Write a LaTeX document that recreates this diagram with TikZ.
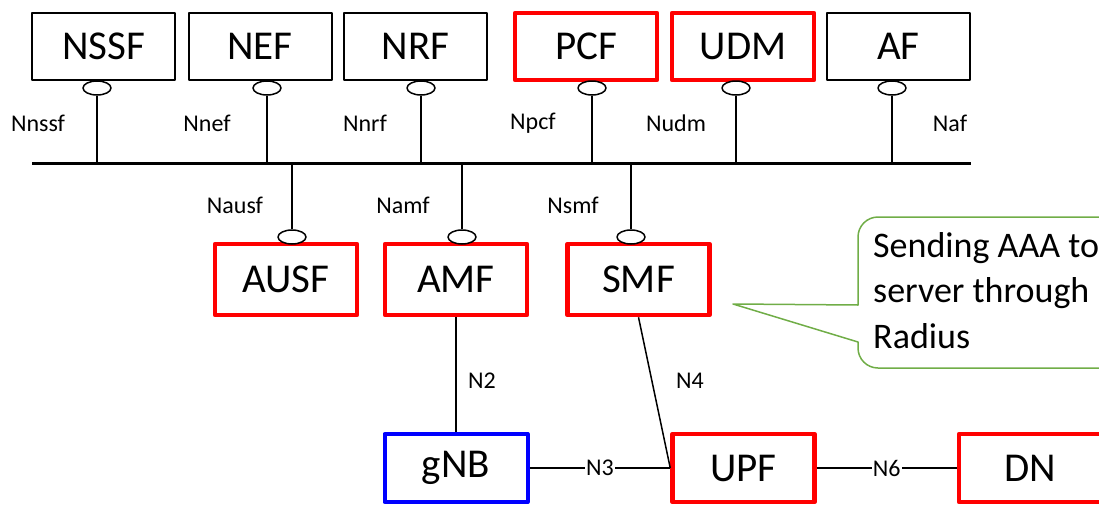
\documentclass[tikz,border=0pt]{standalone}
\usepackage{fontspec}
\setmainfont{Carlito}
\usetikzlibrary{shapes.geometric}
\definecolor{notegreen}{RGB}{112,173,71}
\tikzset{
  nf/.style={draw, line width=2pt, minimum width=143pt, minimum height=67pt, inner sep=0pt, font=\fontsize{41}{48}\selectfont},
  nfred/.style={nf, draw=red, line width=4.5pt, minimum width=142pt},
  nfblue/.style={nf, draw=blue, line width=4pt},
  svc/.style={draw, ellipse, line width=1.5pt, minimum width=28pt, minimum height=14pt, inner sep=0pt, fill=white},
  ifname/.style={font=\fontsize{24}{28}\selectfont, inner sep=1pt},
  link/.style={line width=1.5pt},
  bus/.style={line width=3pt},
  stub/.style={line width=2pt},
}
\begin{document}
\begin{tikzpicture}[x=1pt, y=-1pt, line join=round]
  \clip (0,0) rectangle (1099,506);
  % control plane functions
  \node[nf] (nssf) at (103.5,46.5) {NSSF};
  \node[nf] (nef) at (260,46.5) {NEF};
  \node[nf] (nrf) at (415.5,46.5) {NRF};
  \node[nfred] (pcf) at (586,46.5) {PCF};
  \node[nfred] (udm) at (743,46.5) {UDM};
  \node[nf] (af) at (898.5,46.5) {AF};
  \node[nfred, minimum height=71pt] (ausf) at (286,279.5) {AUSF};
  \node[nfred, minimum height=71pt] (amf) at (456,279.5) {AMF};
  \node[nfred, minimum height=71pt] (smf) at (638.5,279.5) {SMF};
  % service bus
  \coordinate (busw) at (32,163);
  \coordinate (buse) at (971,163);
  \draw[bus] (busw) -- (buse);
  \node[svc] (snssf) at (97,88) {};
  \node[svc] (snef) at (267,88) {};
  \node[svc] (snrf) at (421,88) {};
  \node[svc] (spcf) at (592,88) {};
  \node[svc] (sudm) at (736,88) {};
  \node[svc] (saf) at (892,88) {};
  \node[svc] (sausf) at (292,237) {};
  \node[svc] (samf) at (462,237) {};
  \node[svc] (ssmf) at (631,237) {};
  \foreach \s in {snssf,snef,snrf,spcf,sudm,saf,sausf,samf,ssmf}
    \draw[stub] (\s) -- (\s |- busw);
  \node[ifname] (lnssf) at (38,123) {Nnssf};
  \node[ifname] (lnef) at (207,123) {Nnef};
  \node[ifname] (lnrf) at (365,123) {Nnrf};
  \node[ifname] (lpcf) at (533,123) {Npcf};
  \node[ifname] (ludm) at (676,123) {Nudm};
  \node[ifname] (laf) at (950,123) {Naf};
  \node[ifname] (lausf) at (235,205) {Nausf};
  \node[ifname] (lamf) at (403,205) {Namf};
  \node[ifname] (lsmf) at (573,205) {Nsmf};
  % user plane
  \node[nfblue, minimum height=68pt] (gnb) at (456,468) {gNB};
  \node[nfred, minimum height=68pt] (upf) at (743.5,468) {UPF};
  \node[nfred, minimum height=68pt] (dn) at (1030,468) {DN};
  \draw[link] (amf) -- (gnb);
  \draw[link] (smf.south) -- (upf.west);
  \draw[link] (gnb) -- node[ifname, fill=white] (ln3) {N3} (upf);
  \draw[link] (upf) -- node[ifname, fill=white] (ln6) {N6} (dn);
  \node[ifname] (ln2) at (482,381) {N2};
  \node[ifname] (ln4) at (690,381) {N4};
  % callout
  \coordinate (tip) at (733,304);
  \draw[notegreen, line width=1.5pt, line cap=round] (858,342) -- (tip) -- (858,305)
    [rounded corners=20pt] -- (858,217) -- (1130,217) -- (1130,368) -- (858,368) -- (858,342);
  \node[anchor=north west, align=left, inner sep=0pt, font=\fontsize{36}{45.5}\selectfont] (note) at (873,232) {Sending AAA to\\server through\\Radius};
\end{tikzpicture}
\end{document}
